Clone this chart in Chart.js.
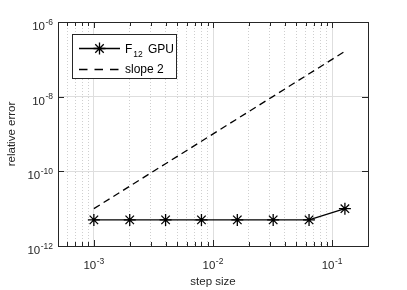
<!DOCTYPE html>
<html>
<head>
<meta charset="utf-8">
<script src="https://cdn.jsdelivr.net/npm/chart.js@4"></script>
<style>
  html, body { margin: 0; padding: 0; background: #fff; }
  #wrap { width: 407px; height: 290px; }
</style>
</head>
<body>
<div id="wrap"><canvas id="errChart" width="407" height="290"></canvas></div>
<script>
// values
const stepSizes = [0.001, 0.002, 0.004, 0.008, 0.016, 0.032, 0.064, 0.128];
const f12Error = [5e-12, 5e-12, 5e-12, 5e-12, 5e-12, 5e-12, 5e-12, 1e-11];
const slope2 = [1e-11, 4e-11, 1.6e-10, 6.4e-10, 2.56e-9, 1.02e-8, 4.1e-8, 1.64e-7];
const xDecades = [-4, -3, -2, -1];
const yTickExps = [-12, -10, -8, -6];

const axisColor = "#262626";
const font = "Liberation Sans, Arial, sans-serif";

function isDecade(v) {
    const l = Math.log10(v);
    return Math.abs(l - Math.round(l)) < 1e-6;
}

function drawPow(ctx, exp, x, y, align) {
    ctx.font = "11.5px " + font;
    const base = "10";
    const bw = ctx.measureText(base).width;
    ctx.font = "8.5px " + font;
    const ex = "-" + Math.abs(exp);
    const ew = ctx.measureText(ex).width;
    const total = bw + ew + 0.5;
    let x0 = align === "right" ? x - total : x - total / 2;
    ctx.fillStyle = axisColor;
    ctx.textAlign = "left";
    ctx.textBaseline = "alphabetic";
    ctx.font = "11.5px " + font;
    ctx.fillText(base, x0, y);
    ctx.font = "8.5px " + font;
    ctx.fillText(ex, x0 + bw + 0.5, y - 5.5);
}

const decor = {
    id: "decor",
    afterDraw(chart) {
        const ctx = chart.ctx;
        const a = chart.chartArea;
        const xs = chart.scales.x, ys = chart.scales.y;
        ctx.save();

        // box
        ctx.strokeStyle = axisColor;
        ctx.lineWidth = 1;
        ctx.setLineDash([]);
        ctx.strokeRect(Math.round(a.left) + 0.5, Math.round(a.top) + 0.5,
            Math.round(a.right - a.left), Math.round(a.bottom - a.top));

        // inward ticks
        ctx.beginPath();
        xs.ticks.forEach(t => {
            const px = Math.round(xs.getPixelForValue(t.value)) + 0.5;
            const len = isDecade(t.value) ? 6 : 4;
            ctx.moveTo(px, a.bottom); ctx.lineTo(px, a.bottom - len);
            ctx.moveTo(px, a.top); ctx.lineTo(px, a.top + len);
        });
        ys.ticks.forEach(t => {
            const py = Math.round(ys.getPixelForValue(t.value)) + 0.5;
            ctx.moveTo(a.left, py); ctx.lineTo(a.left + 6, py);
            ctx.moveTo(a.right, py); ctx.lineTo(a.right - 6, py);
        });
        ctx.stroke();

        // tick labels
        xDecades.forEach(d => {
            const v = Math.pow(10, d);
            if (v < xs.min || v > xs.max) return;
            drawPow(ctx, d, xs.getPixelForValue(v), a.bottom + 23, "center");
        });
        yTickExps.forEach(d => {
            drawPow(ctx, d, a.left - 5, ys.getPixelForValue(Math.pow(10, d)) + 8, "right");
        });

        // axis titles
        ctx.fillStyle = axisColor;
        ctx.font = "11.5px " + font;
        ctx.textAlign = "center";
        ctx.textBaseline = "alphabetic";
        ctx.fillText("step size", (a.left + a.right) / 2, 285);
        ctx.save();
        ctx.translate(15, (a.top + a.bottom) / 2);
        ctx.rotate(-Math.PI / 2);
        ctx.fillText("relative error", 0, 0);
        ctx.restore();

        // legend
        const lx = 72.5, ly = 34.5, lw = 104, lh = 44;
        ctx.fillStyle = "#fff";
        ctx.fillRect(lx, ly, lw, lh);
        ctx.strokeStyle = axisColor;
        ctx.lineWidth = 1;
        ctx.strokeRect(lx, ly, lw, lh);

        ctx.strokeStyle = "#000";
        ctx.lineWidth = 1.3;
        ctx.beginPath();
        ctx.moveTo(79, 48.5); ctx.lineTo(120, 48.5);
        ctx.stroke();
        Chart.helpers.drawPoint(ctx, { pointStyle: "star", radius: 6, borderWidth: 1.3, rotation: 0 }, 99.5, 48.5);
        ctx.setLineDash([8.5, 7]);
        ctx.beginPath();
        ctx.moveTo(79, 69.5); ctx.lineTo(120, 69.5);
        ctx.stroke();
        ctx.setLineDash([]);

        ctx.fillStyle = "#000";
        ctx.textAlign = "left";
        ctx.font = "12px " + font;
        ctx.fillText("F", 125, 52.5);
        const fw = ctx.measureText("F").width;
        ctx.font = "8.5px " + font;
        ctx.fillText("12", 125 + fw + 1, 56.5);
        ctx.font = "12px " + font;
        ctx.fillText("GPU", 148, 52.5);
        ctx.fillText("slope 2", 125, 73);

        ctx.restore();
    }
};

new Chart(document.getElementById("errChart"), {
    type: "line",
    data: {
        datasets: [{
            label: "F12 GPU",
            data: stepSizes.map((s, i) => ({ x: s, y: f12Error[i] })),
            borderColor: "#000",
            backgroundColor: "#000",
            borderWidth: 1.3,
            pointStyle: "star",
            pointRadius: 6,
            pointBorderWidth: 1.3,
            pointBorderColor: "#000",
            tension: 0
        }, {
            label: "slope 2",
            data: stepSizes.map((s, i) => ({ x: s, y: slope2[i] })),
            borderColor: "#000",
            borderWidth: 1.3,
            borderDash: [7, 4.5],
            pointRadius: 0,
            tension: 0
        }]
    },
    options: {
        animation: false,
        responsive: false,
        devicePixelRatio: 1,
        layout: { padding: { left: 58, top: 22, right: 39, bottom: 44 } },
        plugins: { legend: { display: false }, tooltip: { enabled: false } },
        scales: {
            x: {
                type: "logarithmic",
                min: 5e-4,
                max: 0.2,
                afterBuildTicks: scale => {
                    const t = [];
                    xDecades.forEach(d => {
                        for (let k = 1; k <= 9; k++) {
                            const v = k * Math.pow(10, d);
                            if (v >= scale.min * 0.999 && v <= scale.max * 1.001) t.push({ value: v });
                        }
                    });
                    scale.ticks = t;
                },
                ticks: { display: false },
                grid: {
                    drawTicks: false,
                    tickLength: 0,
                    color: c => (c.tick && isDecade(c.tick.value)) ? "#dedede" : "#cfcfcf",
                    lineWidth: 1
                },
                border: {
                    display: false,
                    dash: c => (c.tick && !isDecade(c.tick.value)) ? [1, 2] : []
                }
            },
            y: {
                type: "logarithmic",
                min: 1e-12,
                max: 1e-6,
                afterBuildTicks: scale => {
                    scale.ticks = yTickExps.map(e => ({ value: Math.pow(10, e) }));
                },
                ticks: { display: false },
                grid: { drawTicks: false, tickLength: 0, color: "#dedede", lineWidth: 1 },
                border: { display: false }
            }
        }
    },
    plugins: [decor]
});
</script>
</body>
</html>
